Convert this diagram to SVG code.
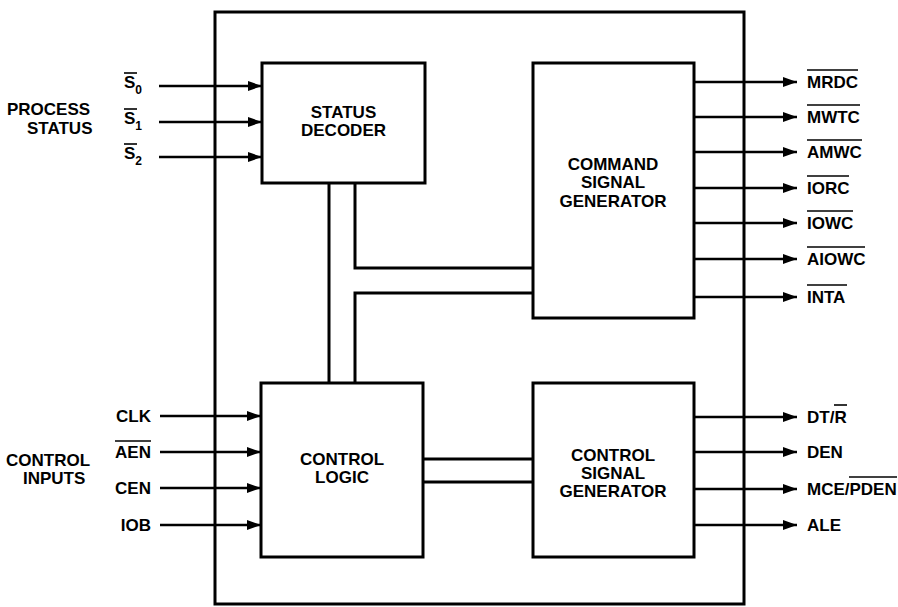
<svg xmlns="http://www.w3.org/2000/svg" width="898" height="607" viewBox="0 0 898 607">
<defs>
<marker id="ah" markerUnits="userSpaceOnUse" markerWidth="16" markerHeight="12" refX="14" refY="5" orient="auto">
<path d="M0,0 L14,5 L0,10 Z" fill="#000"/>
</marker>
<style>
.box{fill:#fff;stroke:#000;stroke-width:3}
.frame{fill:none;stroke:#000;stroke-width:3}
.bus{fill:none;stroke:#000;stroke-width:3}
.sig{stroke:#000;stroke-width:2.5;marker-end:url(#ah)}
.ov{stroke:#000;stroke-width:1.6}
text{font-family:"Liberation Sans",Arial,sans-serif;font-weight:bold;font-size:17px;fill:#000}
.c{text-anchor:middle}
.e{text-anchor:end}
.sub{font-size:12px}
</style>
</defs>
<rect x="0" y="0" width="898" height="607" fill="#fff"/>
<rect id="chip" class="frame" x="215" y="12" width="529" height="592"/>

<g id="connectors">
<path class="bus" d="M329,183 V383 M355,183 V268 H533 M355,383 V293 H533"/>
<path class="bus" d="M423,459 H533 M423,482 H533"/>
<line class="sig" x1="159" y1="86" x2="262" y2="86"/>
<line class="sig" x1="159" y1="122" x2="262" y2="122"/>
<line class="sig" x1="159" y1="157" x2="262" y2="157"/>
<line class="sig" x1="160" y1="416" x2="261" y2="416"/>
<line class="sig" x1="160" y1="452" x2="261" y2="452"/>
<line class="sig" x1="160" y1="488" x2="261" y2="488"/>
<line class="sig" x1="160" y1="525" x2="261" y2="525"/>
<line class="sig" x1="694" y1="82" x2="797" y2="82"/>
<line class="sig" x1="694" y1="117" x2="797" y2="117"/>
<line class="sig" x1="694" y1="152" x2="797" y2="152"/>
<line class="sig" x1="694" y1="188" x2="797" y2="188"/>
<line class="sig" x1="694" y1="223" x2="797" y2="223"/>
<line class="sig" x1="694" y1="259" x2="797" y2="259"/>
<line class="sig" x1="694" y1="297" x2="797" y2="297"/>
<line class="sig" x1="694" y1="417" x2="797" y2="417"/>
<line class="sig" x1="694" y1="452" x2="797" y2="452"/>
<line class="sig" x1="694" y1="489" x2="797" y2="489"/>
<line class="sig" x1="694" y1="525" x2="797" y2="525"/>
</g>

<g id="status-decoder">
<rect class="box" x="262" y="63" width="163" height="120"/>
<text class="c" x="343.5" y="118">STATUS</text>
<text class="c" x="343.5" y="136">DECODER</text>
</g>
<g id="command-signal-generator">
<rect class="box" x="533" y="63" width="161" height="255"/>
<text class="c" x="613" y="170">COMMAND</text>
<text class="c" x="613" y="188">SIGNAL</text>
<text class="c" x="613" y="207">GENERATOR</text>
</g>
<g id="control-logic">
<rect class="box" x="261" y="383" width="162" height="174"/>
<text class="c" x="342" y="465">CONTROL</text>
<text class="c" x="342" y="483">LOGIC</text>
</g>
<g id="control-signal-generator">
<rect class="box" x="533" y="383" width="161" height="174"/>
<text class="c" x="613" y="461">CONTROL</text>
<text class="c" x="613" y="479">SIGNAL</text>
<text class="c" x="613" y="497">GENERATOR</text>
</g>

<g id="process-status">
<text x="7" y="115">PROCESS</text>
<text x="27" y="134">STATUS</text>
<text x="124" y="88">S<tspan class="sub" dy="6">0</tspan></text>
<line class="ov" x1="124" y1="73" x2="137" y2="73"/>
<text x="124" y="124">S<tspan class="sub" dy="6">1</tspan></text>
<line class="ov" x1="124" y1="109" x2="137" y2="109"/>
<text x="124" y="159">S<tspan class="sub" dy="6">2</tspan></text>
<line class="ov" x1="124" y1="144" x2="137" y2="144"/>
</g>

<g id="control-inputs">
<text x="6" y="466">CONTROL</text>
<text x="23" y="484">INPUTS</text>
<text class="e" x="151" y="422">CLK</text>
<text class="e" x="151" y="458">AEN</text>
<line class="ov" x1="115" y1="441" x2="151" y2="441"/>
<text class="e" x="151" y="494">CEN</text>
<text class="e" x="151" y="531">IOB</text>
</g>

<g id="command-outputs">
<text x="807" y="88">MRDC</text>
<line class="ov" x1="807" y1="70" x2="858" y2="70"/>
<text x="807" y="123">MWTC</text>
<line class="ov" x1="807" y1="105" x2="860" y2="105"/>
<text x="807" y="158">AMWC</text>
<line class="ov" x1="807" y1="140" x2="862" y2="140"/>
<text x="807" y="194">IORC</text>
<line class="ov" x1="807" y1="176" x2="849" y2="176"/>
<text x="807" y="229">IOWC</text>
<line class="ov" x1="807" y1="211" x2="853" y2="211"/>
<text x="807" y="265">AIOWC</text>
<line class="ov" x1="807" y1="247" x2="865" y2="247"/>
<text x="807" y="303">INTA</text>
<line class="ov" x1="807" y1="285" x2="847" y2="285"/>
</g>

<g id="control-outputs">
<text x="807" y="423">DT/R</text>
<line class="ov" x1="834" y1="405" x2="847" y2="405"/>
<text x="807" y="458">DEN</text>
<text x="807" y="495">MCE/PDEN</text>
<line class="ov" x1="849" y1="477" x2="897" y2="477"/>
<text x="807" y="531">ALE</text>
</g>
</svg>
